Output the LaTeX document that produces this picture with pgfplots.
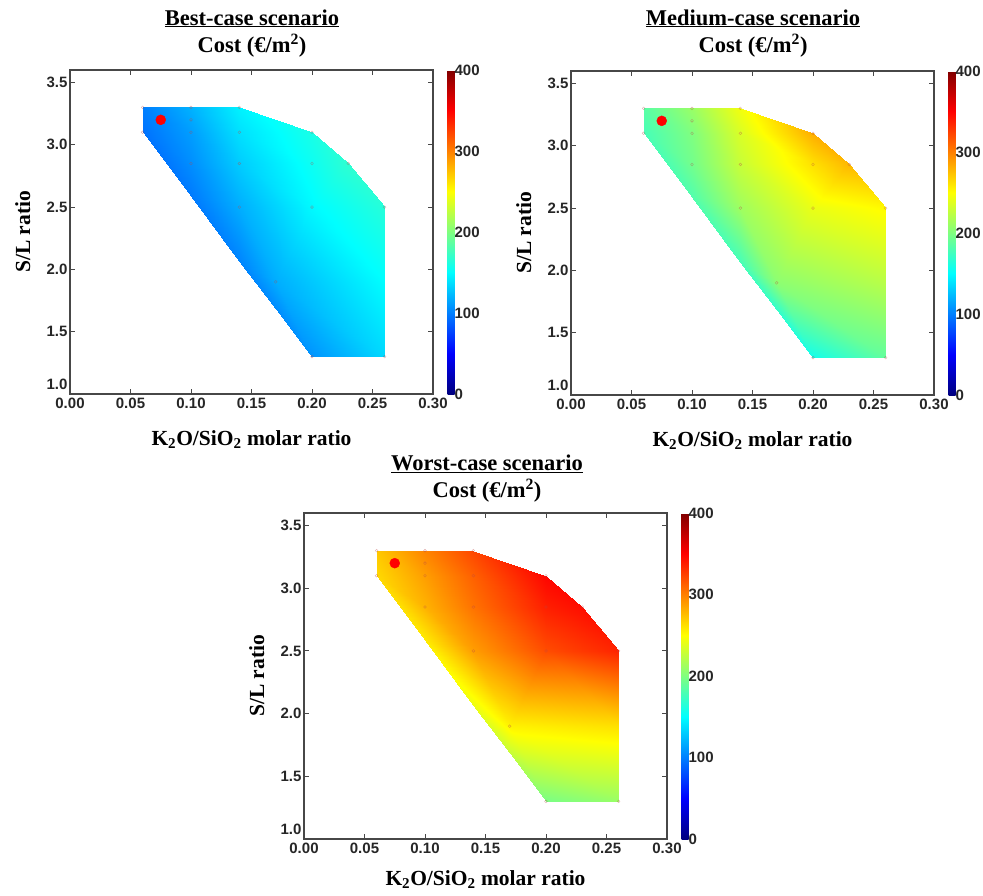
\documentclass[border=0pt]{standalone}
\usepackage{fontspec}
\setmainfont{Liberation Serif}
\setsansfont{Liberation Sans}
\usepackage{pgfplots}
\pgfplotsset{compat=1.18}
\usepackage{pgfplotstable}

% triangulation vertices of the feasible region, cost in EUR/m2 per scenario
\pgfplotstableread{
x     y     best med worst
0.06  3.30  100  185 272
0.06  3.10  95   178 265
0.10  3.30  120  210 298
0.10  3.10  112  200 288
0.10  2.85  106  195 280
0.14  3.30  145  245 322
0.14  3.10  138  235 312
0.14  2.85  130  228 305
0.14  2.50  118  212 288
0.20  3.10  160  282 348
0.20  2.85  155  262 338
0.20  2.50  148  242 320
0.23  2.85  168  278 345
0.26  2.50  165  252 336
0.17  1.90  118  205 255
0.20  1.30  108  158 198
0.26  1.30  135  188 210
0.10  2.586 98   182 258
0.14  2.071 102  178 243
0.17  1.686 105  170 228
0.26  1.90  150  222 262
}\vertices

% design points
\pgfplotstableread{
x    y
0.06 3.30
0.06 3.10
0.10 3.30
0.10 3.20
0.10 3.10
0.10 2.85
0.14 3.30
0.14 3.10
0.14 2.85
0.14 2.50
0.20 3.10
0.20 2.85
0.20 2.50
0.23 2.85
0.26 2.50
0.17 1.90
0.20 1.30
0.26 1.30
}\design

\newcommand{\tris}{%
0 1 3\\ 0 3 2\\ 2 3 6\\ 2 6 5\\ 1 17 4\\ 1 4 3\\ 3 4 7\\ 3 7 6\\
5 6 9\\ 6 7 10\\ 6 10 9\\ 9 10 12\\ 10 11 12\\ 11 13 12\\
4 17 8\\ 4 8 7\\ 7 8 11\\ 7 11 10\\ 17 18 8\\ 8 18 14\\ 8 14 11\\
18 19 14\\ 19 15 14\\ 14 15 16\\ 14 16 20\\ 14 20 11\\ 11 20 13\\}

\pgfplotsset{
  /pgf/number format/assume math mode=true,
  costmap/.style={
    scale only axis, width=363pt, height=324pt,
    xmin=0, xmax=0.30, ymin=1.0, ymax=3.6,
    xtick={0,0.05,0.1,0.15,0.2,0.25,0.3},
    ytick={1.5,2,2.5,3,3.5},
    extra y ticks={1},
    extra y tick style={yticklabel style={yshift=10pt}},
    tick align=inside, major tick length=5pt,
    axis line style={draw=black!72, line width=1.4pt},
    every tick/.style={draw=black!72, line width=0.9pt},
    ticklabel style={font=\sffamily\bfseries\fontsize{15}{15}\selectfont, text=black!85},
    xticklabel style={/pgf/number format/fixed, /pgf/number format/fixed zerofill,
      /pgf/number format/precision=2},
    yticklabel style={/pgf/number format/fixed, /pgf/number format/fixed zerofill,
      /pgf/number format/precision=1, xshift=1pt},
    xlabel={K\textsubscript{2}O/SiO\textsubscript{2} molar ratio},
    ylabel={S/L ratio},
    label style={font=\bfseries\fontsize{21.5}{21.5}\selectfont},
    xlabel style={at={(axis description cs:0.5,-0.14)}, anchor=center},
    ylabel style={at={(axis description cs:-0.13,0.5)}, anchor=center},
    colormap/jet, point meta min=0, point meta max=400,
    colorbar,
    colorbar style={
      width=7pt, at={(parent axis.north east)}, anchor=north west, xshift=6pt,
      ytick={0,100,200,300,400}, major tick length=0pt,
      axis line style={draw=none},
      yticklabel style={font=\sffamily\bfseries\fontsize{15}{15}\selectfont, text=black!85, xshift=-3.5pt},
    },
  },
  region/.style={patch, shader=interp, point meta=explicit,
    table/row sep=\\, patch table/.expand once=\tris},
  designpts/.style={only marks, mark=o, mark size=1.4pt, draw=red!45!gray, opacity=0.45},
  optimum/.style={only marks, mark=*, mark size=5pt, color=red},
}

\begin{document}
\begin{tikzpicture}
\path[use as bounding box] (0,0) rectangle (983pt,-895pt);

\tikzset{ttl/.style={font=\bfseries\fontsize{22.5}{22.5}\selectfont, anchor=base}}

% best case
\node[ttl] at (252pt,-25pt) {\underline{Best-case scenario}};
\node[ttl] at (252pt,-52pt) {Cost (€/m\textsuperscript{2})};
\begin{axis}[costmap, at={(70pt,-394pt)}, anchor=south west]
  \addplot[region] table[x=x, y=y, meta=best] {\vertices};
  \addplot[designpts] table[x=x, y=y] {\design};
  \addplot[optimum] coordinates {(0.075,3.2)};
\end{axis}

% medium case
\node[ttl] at (753pt,-25pt) {\underline{Medium-case scenario}};
\node[ttl] at (753pt,-52pt) {Cost (€/m\textsuperscript{2})};
\begin{axis}[costmap, at={(571pt,-395pt)}, anchor=south west]
  \addplot[region] table[x=x, y=y, meta=med] {\vertices};
  \addplot[designpts] table[x=x, y=y] {\design};
  \addplot[optimum] coordinates {(0.075,3.2)};
\end{axis}

% worst case
\node[ttl] at (487pt,-470pt) {\underline{Worst-case scenario}};
\node[ttl] at (487pt,-497pt) {Cost (€/m\textsuperscript{2})};
\begin{axis}[costmap, height=326pt, at={(304pt,-839pt)}, anchor=south west,
    xlabel style={at={(axis description cs:0.5,-0.125)}}]
  \addplot[region] table[x=x, y=y, meta=worst] {\vertices};
  \addplot[designpts] table[x=x, y=y] {\design};
  \addplot[optimum] coordinates {(0.075,3.2)};
\end{axis}
\end{tikzpicture}
\end{document}
